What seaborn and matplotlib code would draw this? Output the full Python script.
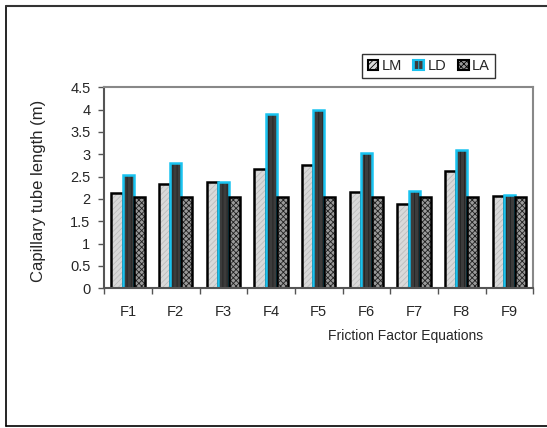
import matplotlib
matplotlib.use("Agg")
import matplotlib.pyplot as plt
from matplotlib.lines import Line2D
from matplotlib.patches import Patch
import pandas as pd
import seaborn as sns

equations = ["F1", "F2", "F3", "F4", "F5", "F6", "F7", "F8", "F9"]
lm = [2.13, 2.34, 2.39, 2.66, 2.76, 2.15, 1.89, 2.62, 2.06]
ld = [2.54, 2.80, 2.37, 3.91, 4.00, 3.04, 2.17, 3.10, 2.10]
la = [2.04, 2.04, 2.04, 2.04, 2.04, 2.04, 2.04, 2.04, 2.04]
series = ["LM", "LD", "LA"]
y_ticks = [0, 0.5, 1, 1.5, 2, 2.5, 3, 3.5, 4, 4.5]
y_tick_labels = ["0", "0.5", "1", "1.5", "2", "2.5", "3", "3.5", "4", "4.5"]

df = pd.DataFrame({
    "Equation": equations * 3,
    "Series": [s for s in series for _ in equations],
    "Length": lm + ld + la,
})

sns.set_style("white")
plt.rcParams["font.family"] = ["Liberation Sans", "DejaVu Sans"]
plt.rcParams["hatch.linewidth"] = 0.6

fig = plt.figure(figsize=(5.47, 4.28), dpi=100)
ax = fig.add_axes([104.3 / 547, 1 - 288.3 / 428, (533.3 - 104.3) / 547, (288.3 - 87.3) / 428])

styles = {
    "LM": dict(face="#d9d9d9", edge="black", hatch="//////", hatch_color="#bdbdbd"),
    "LD": dict(face="#3c3c3c", edge="#19c3f0", hatch="||||", hatch_color="#222222"),
    "LA": dict(face="#9a9a9a", edge="black", hatch="xxxxxx", hatch_color="#202020"),
}

sns.barplot(data=df, x="Equation", y="Length", hue="Series", hue_order=series,
            order=equations, width=0.7, ax=ax, legend=False, saturation=1)

for name, cont in zip(series, ax.containers):
    st = styles[name]
    for bar in cont:
        bar.set_facecolor(st["face"])
        bar.set_edgecolor(st["edge"])
        bar.set_linewidth(1.8)
        bar.set_hatch(st["hatch"])
        bar._hatch_color = matplotlib.colors.to_rgba(st["hatch_color"])

ax.set_xlim(-0.5, len(equations) - 0.5)
ax.set_ylim(0, 4.5)
ax.set_yticks(y_ticks)
ax.set_yticklabels(y_tick_labels, fontsize=10.5)
ax.set_xticks(range(len(equations)))
ax.set_xticklabels(equations, fontsize=10.5)
ax.set_xticks([i + 0.5 for i in range(-1, len(equations))], minor=True)
ax.tick_params(axis="x", which="major", length=0, pad=12)
ax.tick_params(axis="x", which="minor", length=4, width=1, color="#555555", direction="out", bottom=True)
ax.tick_params(axis="y", length=4, width=1, color="#555555", direction="out", left=True, pad=6)
ax.set_xlabel("")
ax.set_ylabel("")

for side in ["top", "right", "left", "bottom"]:
    ax.spines[side].set_visible(True)
    ax.spines[side].set_linewidth(1.5)
ax.spines["top"].set_color("#888888")
ax.spines["right"].set_color("#888888")
ax.spines["left"].set_color("#555555")
ax.spines["bottom"].set_color("#555555")

fig.text(39 / 547, 1 - 191 / 428, "Capillary tube length (m)", fontsize=12,
         rotation=90, ha="center", va="center")
fig.text(406 / 547, 1 - 336 / 428, "Friction Factor Equations", fontsize=10,
         ha="center", va="center")

handles = [Patch(facecolor=styles[s]["face"], edgecolor="black" if s != "LD" else styles[s]["edge"],
                 hatch=styles[s]["hatch"], linewidth=1.5) for s in series]
leg = fig.legend(handles, series, loc="center", bbox_to_anchor=(428.5 / 547, 1 - 66 / 428),
                 ncol=3, fontsize=10.5, frameon=True, fancybox=False, edgecolor="black",
                 handlelength=0.75, handleheight=0.75, handletextpad=0.2, columnspacing=0.8,
                 borderpad=0.35)
leg.get_frame().set_linewidth(1.0)

# page border around the chart
fig.add_artist(Line2D([6 / 547, 6 / 547], [1 - 426 / 428, 1 - 6 / 428], color="black", lw=1.2))
fig.add_artist(Line2D([6 / 547, 1], [1 - 6 / 428, 1 - 6 / 428], color="#333333", lw=1.5))
fig.add_artist(Line2D([6 / 547, 1], [1 - 426 / 428, 1 - 426 / 428], color="black", lw=1.2))

fig.savefig("out.png", dpi=100)
